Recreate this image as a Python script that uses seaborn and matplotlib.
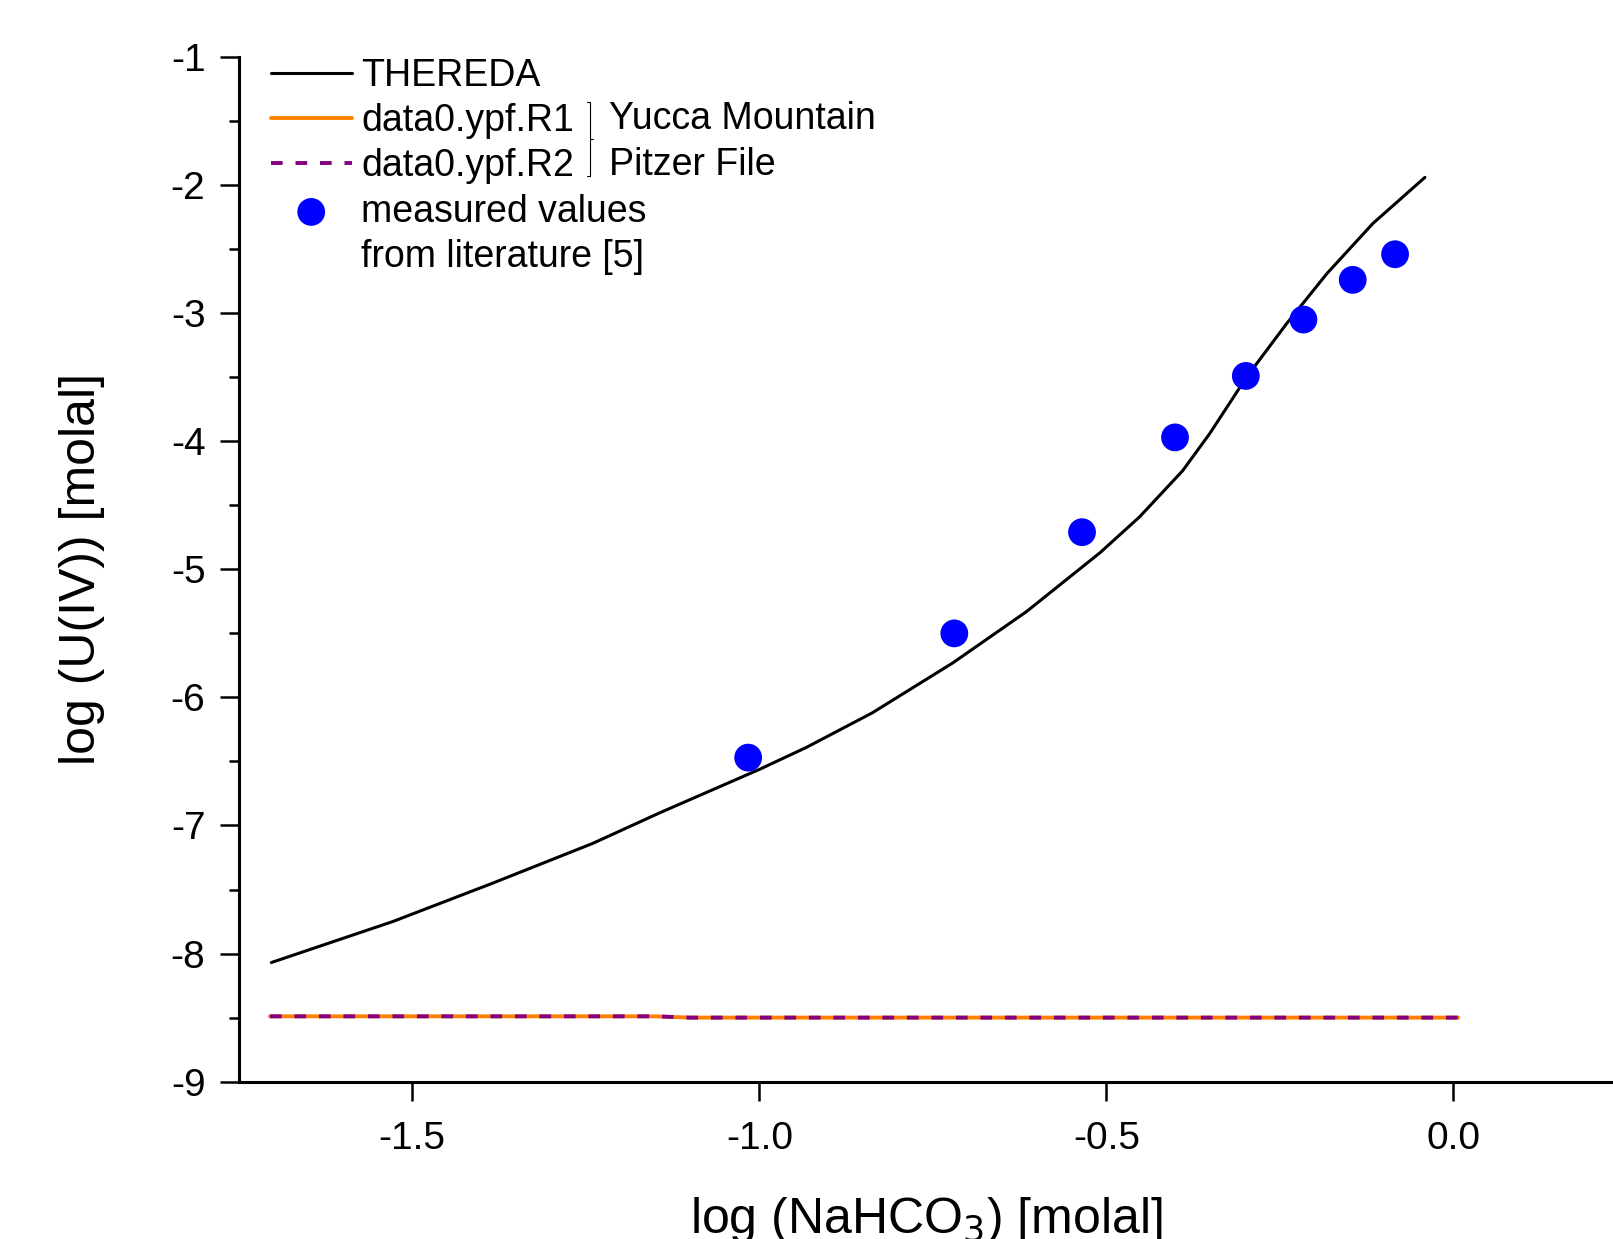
import matplotlib
matplotlib.use('Agg')
import matplotlib.pyplot as plt
import seaborn as sns
from matplotlib.ticker import MultipleLocator, FormatStrFormatter
from matplotlib.lines import Line2D

sns.set_style('ticks')
plt.rcParams['font.family'] = ['Liberation Sans', 'DejaVu Sans']
plt.rcParams['axes.unicode_minus'] = False
plt.rcParams['text.color'] = 'black'
plt.rcParams['axes.labelcolor'] = 'black'

# THEREDA model curve
thereda_x = [-1.703, -1.528, -1.384, -1.240, -1.143, -0.999, -0.932, -0.837,
             -0.721, -0.615, -0.509, -0.452, -0.390, -0.351, -0.298, -0.240,
             -0.182, -0.116, -0.041]
thereda_y = [-8.07, -7.75, -7.45, -7.14, -6.90, -6.56, -6.39, -6.12,
             -5.73, -5.33, -4.87, -4.59, -4.23, -3.94, -3.50, -3.08,
             -2.69, -2.30, -1.94]

# Yucca Mountain Pitzer file (R1 and R2 coincide)
ypf_x = [-1.705, -1.5, -1.3, -1.15, -1.1, -0.9, -0.7, -0.5, -0.3, -0.1, 0.007]
r1_y = [-8.49, -8.49, -8.49, -8.49, -8.50, -8.50, -8.50, -8.50, -8.50, -8.50, -8.50]
r2_y = [-8.49, -8.49, -8.49, -8.49, -8.50, -8.50, -8.50, -8.50, -8.50, -8.50, -8.50]

# measured values from literature
meas_x = [-1.016, -0.719, -0.535, -0.401, -0.299, -0.216, -0.145, -0.084]
meas_y = [-6.47, -5.50, -4.71, -3.97, -3.49, -3.05, -2.74, -2.54]

fig = plt.figure(figsize=(16.13, 12.39), dpi=100)
ax = fig.add_axes([0.148, 0.127, 0.852, 0.827])

sns.lineplot(x=thereda_x, y=thereda_y, color='black', linewidth=2.2,
             sort=False, ax=ax, label='THEREDA')
sns.lineplot(x=ypf_x, y=r1_y, color='#ff8000', linewidth=2.8,
             sort=False, ax=ax, label='data0.ypf.R1')
sns.lineplot(x=ypf_x, y=r2_y, color='#800080', linewidth=2.8,
             linestyle=(0, (3, 3.3)), sort=False, ax=ax, label='data0.ypf.R2')
sns.scatterplot(x=meas_x, y=meas_y, color='#0000ff', s=400, edgecolor='none',
                ax=ax, label='measured values', zorder=3)

ax.set_xlim(-1.75, 0.23)
ax.set_ylim(-9, -1)
ax.xaxis.set_major_locator(MultipleLocator(0.5))
ax.yaxis.set_major_locator(MultipleLocator(1))
ax.yaxis.set_minor_locator(MultipleLocator(0.5))
ax.xaxis.set_major_formatter(FormatStrFormatter('%.1f'))
ax.yaxis.set_major_formatter(FormatStrFormatter('%d'))

sns.despine(ax=ax)
for side in ['left', 'bottom']:
    ax.spines[side].set_linewidth(2.2)
    ax.spines[side].set_color('black')
ax.tick_params(axis='both', which='major', direction='out', length=14,
               width=1.8, labelsize=28, colors='black', pad=14)
ax.tick_params(axis='y', which='minor', direction='out', length=7, width=1.8,
               colors='black')
ax.tick_params(axis='y', which='major', pad=10)

ax.set_xlabel('log (NaHCO$_3$) [molal]', fontsize=36, labelpad=28)
ax.set_ylabel('log (U(IV)) [molal]', fontsize=36, labelpad=47)

handles, labels = ax.get_legend_handles_labels()
handles.append(Line2D([], [], color='none'))
labels.append('from literature [5]')
leg = ax.legend(handles, labels, loc='upper left', bbox_to_anchor=(0.0125, 1.014),
                frameon=False, fontsize=27, handlelength=2.15, handletextpad=0.25,
                labelspacing=0.25, borderaxespad=0)

# bracket joining the two Pitzer file entries
bx = 0.2555
ax.add_line(Line2D([bx - 0.002, bx, bx, bx - 0.002], [0.956, 0.956, 0.884, 0.884],
                   transform=ax.transAxes, color='black', lw=0.8, clip_on=False))
ax.add_line(Line2D([bx, bx + 0.002], [0.920, 0.920],
                   transform=ax.transAxes, color='black', lw=0.8, clip_on=False))
ax.text(0.2695, 0.939, 'Yucca Mountain', transform=ax.transAxes,
        fontsize=27, va='center', ha='left')
ax.text(0.2695, 0.895, 'Pitzer File', transform=ax.transAxes,
        fontsize=27, va='center', ha='left')

fig.savefig('out.png', dpi=100)
